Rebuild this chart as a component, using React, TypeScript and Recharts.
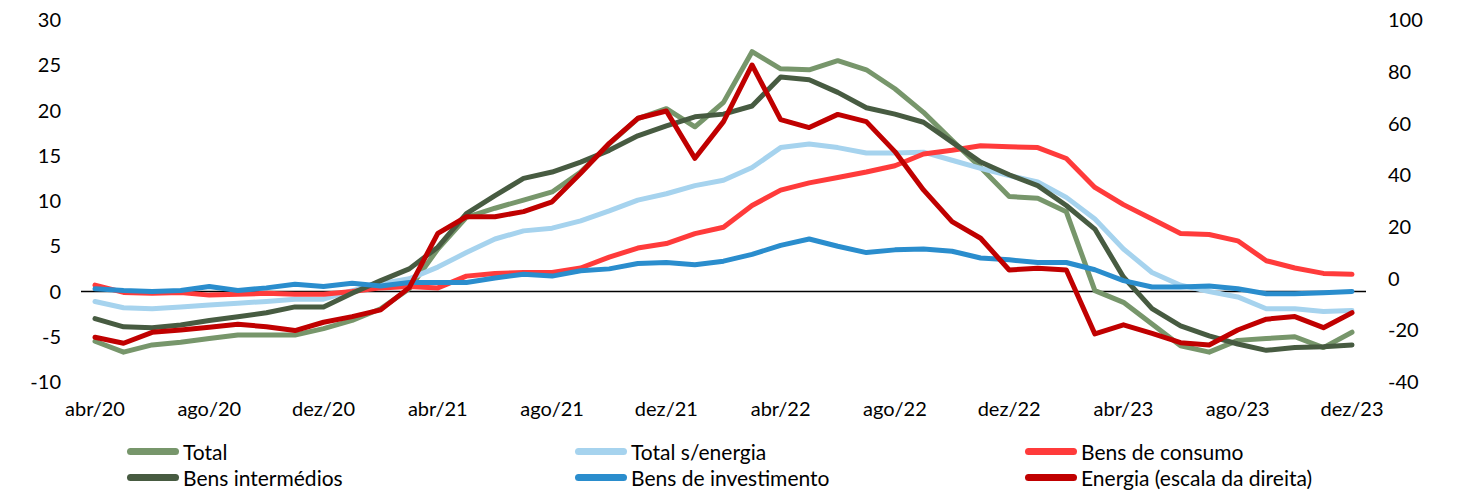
import { LineChart, Line, XAxis, YAxis, ReferenceLine, Legend } from "recharts"

const meses = [
  "abr/20", "mai/20", "jun/20", "jul/20", "ago/20", "set/20", "out/20", "nov/20", "dez/20",
  "jan/21", "fev/21", "mar/21", "abr/21", "mai/21", "jun/21", "jul/21", "ago/21", "set/21", "out/21", "nov/21", "dez/21",
  "jan/22", "fev/22", "mar/22", "abr/22", "mai/22", "jun/22", "jul/22", "ago/22", "set/22", "out/22", "nov/22", "dez/22",
  "jan/23", "fev/23", "mar/23", "abr/23", "mai/23", "jun/23", "jul/23", "ago/23", "set/23", "out/23", "nov/23", "dez/23",
]

const total = [
  -5.5, -6.7, -5.9, -5.6, -5.2, -4.8, -4.8, -4.8, -4.1, -3.2, -1.9, 0.3,
  4.7, 8.2, 9.2, 10.1, 11.0, 13.2, 16.3, 19.1, 20.2, 18.2, 20.9, 26.5, 24.6,
  24.5, 25.5, 24.5, 22.4, 19.8, 16.7, 13.7, 10.5, 10.3, 8.8, 0.1, -1.2,
  -3.6, -6.0, -6.7, -5.4, -5.2, -5.0, -6.2, -4.5,
]

const totalSemEnergia = [
  -1.1, -1.8, -1.9, -1.7, -1.5, -1.3, -1.1, -0.85, -0.85, 0.1, 0.85, 1.4,
  2.7, 4.3, 5.8, 6.7, 7.0, 7.8, 8.9, 10.1, 10.8, 11.7, 12.3, 13.7, 15.9,
  16.3, 15.9, 15.3, 15.3, 15.4, 14.5, 13.6, 12.8, 12.1, 10.4, 8.0, 4.7,
  2.1, 0.7, 0.0, -0.6, -1.9, -1.9, -2.2, -2.1,
]

const consumo = [
  0.7, -0.1, -0.2, -0.1, -0.4, -0.3, -0.2, -0.3, -0.3, 0.0, 0.4, 0.55,
  0.4, 1.7, 2.0, 2.1, 2.1, 2.6, 3.8, 4.8, 5.3, 6.4, 7.1, 9.5, 11.2,
  12.0, 12.6, 13.2, 13.9, 15.2, 15.6, 16.1, 16.0, 15.9, 14.7, 11.5, 9.6,
  8.0, 6.4, 6.3, 5.6, 3.4, 2.6, 2.0, 1.9,
]

const intermedios = [
  -3.0, -3.9, -4.0, -3.7, -3.2, -2.8, -2.35, -1.7, -1.7, -0.2, 1.2, 2.5,
  4.9, 8.6, 10.6, 12.5, 13.2, 14.3, 15.6, 17.2, 18.3, 19.3, 19.6, 20.5, 23.7,
  23.4, 22.0, 20.3, 19.6, 18.7, 16.5, 14.3, 12.9, 11.7, 9.5, 6.9, 1.6,
  -1.9, -3.8, -4.9, -5.8, -6.5, -6.2, -6.1, -5.9,
]

const investimento = [
  0.3, 0.1, 0.0, 0.1, 0.55, 0.1, 0.4, 0.8, 0.55, 0.9, 0.6, 1.0,
  1.0, 1.0, 1.5, 1.9, 1.7, 2.3, 2.5, 3.1, 3.2, 2.95, 3.35, 4.1, 5.1,
  5.8, 5.0, 4.3, 4.6, 4.7, 4.45, 3.7, 3.5, 3.2, 3.2, 2.4, 1.2,
  0.5, 0.5, 0.6, 0.3, -0.25, -0.25, -0.15, 0.0,
]

// escala da direita
const energia = [
  -22.7, -25.0, -20.8, -19.9, -18.8, -17.7, -18.6, -20.1, -16.9, -14.7, -12.1, -3.5,
  17.5, 23.9, 23.9, 25.9, 29.7, 40.7, 52.3, 62.0, 64.8, 46.5, 60.7, 82.6, 61.5,
  58.4, 63.5, 60.7, 49.1, 34.3, 22.0, 15.6, 3.3, 4.0, 3.3, -21.4, -17.9,
  -21.2, -24.8, -25.7, -19.9, -15.7, -14.7, -19.0, -13.2,
]

const leftTicks = [-10, -5, 0, 5, 10, 15, 20, 25, 30]
const rightTicks = [-40, -20, 0, 20, 40, 60, 80, 100]

const series = [
  { key: "total", name: "Total", color: "#77966B", axis: "left" },
  { key: "semEnergia", name: "Total s/energia", color: "#A6D3EE", axis: "left" },
  { key: "consumo", name: "Bens de consumo", color: "#FF3B3B", axis: "left" },
  { key: "intermedios", name: "Bens intermédios", color: "#475B41", axis: "left" },
  { key: "investimento", name: "Bens de investimento", color: "#2A8DCD", axis: "left" },
  { key: "energia", name: "Energia (escala da direita)", color: "#C00000", axis: "right" },
]

const data = meses.map((mes, i) => ({
  mes,
  total: total[i],
  semEnergia: totalSemEnergia[i],
  consumo: consumo[i],
  intermedios: intermedios[i],
  investimento: investimento[i],
  energia: energia[i],
}))

const font = "Lato, 'Open Sans', sans-serif"
const tickStyle = { fontSize: 20, fill: "#000", fontFamily: font }

// legend sits in three columns over two rows
const legendCols = [119, 567, 1017]

function ChartLegend() {
  return (
    <div style={{ position: "relative", width: 1448, height: 56, fontFamily: font, fontSize: 21, color: "#000" }}>
      {series.map((s, i) => (
        <div
          key={s.key}
          style={{
            position: "absolute",
            left: legendCols[i % 3],
            top: Math.floor(i / 3) * 26 - 1,
            height: 28,
            display: "flex",
            alignItems: "center",
            whiteSpace: "nowrap",
          }}
        >
          <span style={{ display: "inline-block", width: 52, height: 7, borderRadius: 4, background: s.color, marginRight: 4 }} />
          <span>{s.name}</span>
        </div>
      ))}
    </div>
  )
}

export default function App() {
  return (
    <LineChart
      width={1448}
      height={487}
      data={data}
      margin={{ top: 12, right: 0, left: 0, bottom: 73 }}
      style={{ fontFamily: font }}
    >
      <ReferenceLine yAxisId="left" y={0} stroke="#000" strokeWidth={1.5} />
      <XAxis
        dataKey="mes"
        interval={3}
        tickLine={false}
        axisLine={false}
        tickSize={0}
        tickMargin={20}
        height={40}
        padding={{ left: 14, right: 14 }}
        tick={tickStyle}
      />
      <YAxis
        yAxisId="left"
        domain={[-10, 30]}
        ticks={leftTicks}
        width={73}
        tickLine={false}
        axisLine={false}
        tickSize={0}
        tickMargin={20}
        tick={tickStyle}
      />
      <YAxis
        yAxisId="right"
        orientation="right"
        domain={[-40, 100]}
        ticks={rightTicks}
        width={90}
        tickLine={false}
        axisLine={false}
        tickSize={0}
        tickMargin={22}
        tick={{ ...tickStyle, textAnchor: "start" }}
      />
      <Legend
        verticalAlign="middle"
        align="center"
        layout="horizontal"
        wrapperStyle={{ top: 430, left: 0, width: 1448 }}
        content={() => <ChartLegend />}
      />
      {series.map((s) => (
        <Line
          key={s.key}
          yAxisId={s.axis}
          type="linear"
          dataKey={s.key}
          name={s.name}
          stroke={s.color}
          strokeWidth={5}
          strokeLinejoin="round"
          strokeLinecap="round"
          dot={false}
          activeDot={false}
          isAnimationActive={false}
        />
      ))}
    </LineChart>
  )
}
